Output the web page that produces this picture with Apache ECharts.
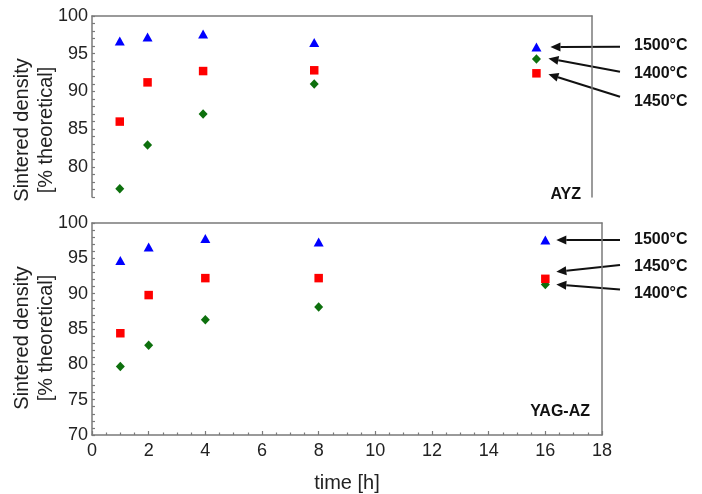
<!DOCTYPE html>
<html>
<head>
<meta charset="utf-8">
<script src="https://cdn.jsdelivr.net/npm/echarts@6/dist/echarts.min.js"></script>
<style>
  html, body { margin: 0; padding: 0; background: #fff; }
  #chart { width: 702px; height: 494px; }
</style>
</head>
<body>
<div id="chart"></div>
<script>
// sintering time [h]
const times = [1, 2, 4, 8, 16];

// AYZ (top panel)
const ayz1500 = [96.7, 97.2, 97.6, 96.5, 95.9];
const ayz1450 = [86.0, 91.2, 92.7, 92.8, 92.4];
const ayz1400 = [77.1, 82.9, 87.0, 91.0, 94.3];

// YAG-AZ (bottom panel)
const yag1500 = [94.7, 96.6, 97.8, 97.3, 97.6];
const yag1450 = [84.4, 89.8, 92.2, 92.2, 92.1];
const yag1400 = [79.7, 82.7, 86.3, 88.1, 91.3];

const panelNames = ['AYZ', 'YAG-AZ'];
const tempLabels = ['1500°C', '1450°C', '1400°C'];

const BLUE = '#0000ff', RED = '#ff0000', GREEN = '#0d700d';
const AXIS = '#7a7a7a';
const FONT = 'Liberation Sans, Arial, sans-serif';

const pairs = (ys) => times.map((t, i) => [t, ys[i]]);

const chart = echarts.init(document.getElementById('chart'));

const lineOnly = { show: true, onZero: false, lineStyle: { color: AXIS, width: 1.5 } };

// top / right border lines of each panel
function frameAxes(gridIndex, min, max) {
  return {
    x: { type: 'value', gridIndex, position: 'top', min: 0, max: 18,
         axisLine: lineOnly, axisTick: { show: false }, axisLabel: { show: false }, splitLine: { show: false } },
    y: { type: 'value', gridIndex, position: 'right', min, max,
         axisLine: lineOnly, axisTick: { show: false }, axisLabel: { show: false }, splitLine: { show: false } }
  };
}

const topFrame = frameAxes(0, 76, 100);
const botFrame = frameAxes(1, 70, 100);

const yLabel = {
  color: '#222', fontSize: 18, fontFamily: FONT, margin: 4,
  formatter: (v) => (v % 5 === 0 ? String(v) : '')
};

function scatter(name, data, xi, yi, symbol, size, color, z) {
  return {
    type: 'scatter', name, xAxisIndex: xi, yAxisIndex: yi,
    data: pairs(data), symbol, symbolSize: size, z,
    itemStyle: { color, opacity: 1 }, silent: true
  };
}

const option = {
  backgroundColor: '#fff',
  animation: false,
  grid: [
    { left: 92, top: 16, width: 500, height: 181 },
    { left: 92, top: 223, width: 510, height: 214 }
  ],
  xAxis: [
    // top panel: no bottom axis line, no labels
    { type: 'value', gridIndex: 0, min: 0, max: 18, interval: 2,
      axisLine: { show: false }, axisTick: { show: false }, axisLabel: { show: false }, splitLine: { show: false } },
    topFrame.x,
    { type: 'value', gridIndex: 1, min: 0, max: 18, interval: 2,
      name: 'time [h]', nameLocation: 'middle', nameGap: 38,
      nameTextStyle: { color: '#222', fontSize: 20, fontFamily: FONT },
      axisLine: { show: true, onZero: false, lineStyle: { color: AXIS, width: 1.5 } },
      axisTick: { show: true, inside: true, length: 4, lineStyle: { color: AXIS, width: 1.2 } },
      minorTick: { show: true, splitNumber: 4, length: 2.5, lineStyle: { color: AXIS, width: 1.2 } },
      axisLabel: { color: '#222', fontSize: 18, fontFamily: FONT, margin: 7 },
      splitLine: { show: false } },
    botFrame.x
  ],
  yAxis: [
    { type: 'value', gridIndex: 0, min: 76, max: 100, interval: 1,
      axisLine: { show: true, onZero: false, lineStyle: { color: AXIS, width: 1.5 } },
      axisTick: { show: true, inside: true, length: 3, lineStyle: { color: AXIS, width: 1.2 } },
      axisLabel: yLabel, splitLine: { show: false } },
    topFrame.y,
    { type: 'value', gridIndex: 1, min: 70, max: 100, interval: 1,
      axisLine: { show: true, onZero: false, lineStyle: { color: AXIS, width: 1.5 } },
      axisTick: { show: true, inside: true, length: 3, lineStyle: { color: AXIS, width: 1.2 } },
      axisLabel: yLabel, splitLine: { show: false } },
    botFrame.y
  ],
  series: [
    scatter('AYZ 1400', ayz1400, 0, 0, 'diamond', [9, 9.5], GREEN, 2),
    scatter('AYZ 1450', ayz1450, 0, 0, 'rect', [8.5, 8.5], RED, 3),
    scatter('AYZ 1500', ayz1500, 0, 0, 'triangle', [10, 9], BLUE, 4),
    scatter('YAG 1400', yag1400, 2, 2, 'diamond', [9, 9.5], GREEN, 2),
    scatter('YAG 1450', yag1450, 2, 2, 'rect', [8.5, 8.5], RED, 3),
    scatter('YAG 1500', yag1500, 2, 2, 'triangle', [10, 9], BLUE, 4)
  ]
};

chart.setOption(option);

// annotations: arrows from the temperature labels to the t=16 h markers
function arrow(from, to) {
  const dx = to[0] - from[0], dy = to[1] - from[1];
  const len = Math.sqrt(dx * dx + dy * dy);
  const ux = dx / len, uy = dy / len;
  const headL = 10, headW = 4.5;
  const bx = to[0] - ux * headL, by = to[1] - uy * headL;
  return [
    { type: 'line', shape: { x1: from[0], y1: from[1], x2: bx, y2: by },
      style: { stroke: '#111', lineWidth: 2 } },
    { type: 'polygon', shape: { points: [to, [bx - uy * headW, by + ux * headW], [bx + uy * headW, by - ux * headW]] },
      style: { fill: '#111' } }
  ];
}

function px(xi, yi, x, y) {
  return chart.convertToPixel({ xAxisIndex: xi, yAxisIndex: yi }, [x, y]);
}

const last = times.length - 1;
const tLast = times[last];
const g = [];
const labelFont = 'bold 16px ' + FONT;

// top panel (AYZ): order of labels 1500, 1400, 1450
const topSpecs = [
  { label: tempLabels[0], ys: ayz1500, start: 46.7, textY: 46, off: [14, 0] },
  { label: tempLabels[2], ys: ayz1400, start: 71.7, textY: 74, off: [12, -0.5] },
  { label: tempLabels[1], ys: ayz1450, start: 96.7, textY: 102, off: [12, 1] }
];
topSpecs.forEach((s) => {
  const p = px(0, 0, tLast, s.ys[last]);
  g.push(...arrow([620, s.start], [p[0] + s.off[0], p[1] + s.off[1]]));
  g.push({ type: 'text', x: 634, y: s.textY,
    style: { text: s.label, fill: '#111', font: labelFont, textAlign: 'left', textVerticalAlign: 'middle' } });
});

// bottom panel (YAG-AZ): order 1500, 1450, 1400
const botSpecs = [
  { label: tempLabels[0], ys: yag1500, start: 240, textY: 240, off: [11, 0] },
  { label: tempLabels[1], ys: yag1450, start: 265, textY: 267, off: [11, -7] },
  { label: tempLabels[2], ys: yag1400, start: 289.5, textY: 293.5, off: [11, 0] }
];
botSpecs.forEach((s) => {
  const p = px(2, 2, tLast, s.ys[last]);
  g.push(...arrow([620, s.start], [p[0] + s.off[0], p[1] + s.off[1]]));
  g.push({ type: 'text', x: 634, y: s.textY,
    style: { text: s.label, fill: '#111', font: labelFont, textAlign: 'left', textVerticalAlign: 'middle' } });
});

// panel names
g.push({ type: 'text', x: 581, y: 195,
  style: { text: panelNames[0], fill: '#111', font: labelFont, textAlign: 'right', textVerticalAlign: 'middle' } });
g.push({ type: 'text', x: 590, y: 412,
  style: { text: panelNames[1], fill: '#111', font: labelFont, textAlign: 'right', textVerticalAlign: 'middle' } });

// y axis titles (two lines, rotated)
[130, 338].forEach((cy) => {
  g.push({ type: 'text', x: 34, y: cy, rotation: Math.PI / 2,
    style: { text: 'Sintered density\n[% theoretical]', fill: '#222', font: '20px ' + FONT,
      lineHeight: 24, textAlign: 'center', textVerticalAlign: 'middle' } });
});

chart.setOption({ graphic: g });
</script>
</body>
</html>
